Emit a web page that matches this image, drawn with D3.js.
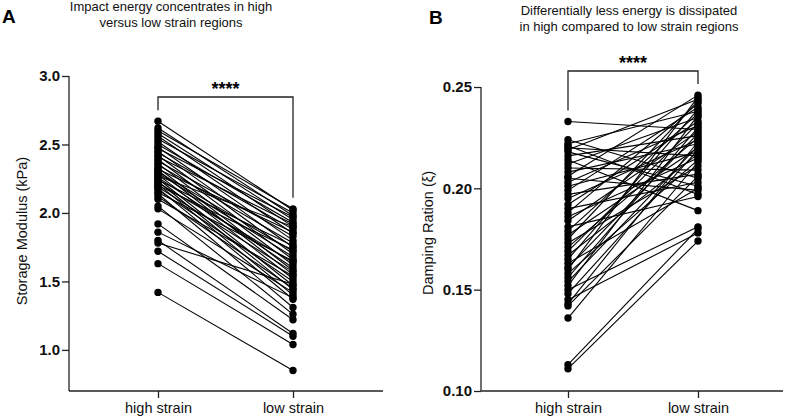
<!DOCTYPE html>
<html><head><meta charset="utf-8">
<script src="https://cdn.jsdelivr.net/npm/d3@7"></script>
<style>
body{margin:0;background:#fff;}
svg{display:block;font-family:"Liberation Sans",Arial,sans-serif;}
</style></head><body>
<svg id="c" width="785" height="419"></svg>
<script>
const categories = ["high strain", "low strain"];

// Panel A: storage modulus (kPa), paired values
const storageHigh = [2.67,2.62,2.60,2.58,2.56,2.54,2.52,2.50,2.48,2.47,2.45,2.44,2.42,2.41,2.39,2.38,2.36,2.35,2.33,2.32,2.31,2.30,2.29,2.28,2.27,2.26,2.25,2.24,2.23,2.22,2.21,2.20,2.19,2.18,2.17,2.15,2.14,2.12,2.10,2.05,2.03,1.92,1.86,1.80,1.78,1.72,1.63,1.42];
const storageLow  = [2.02,1.98,2.03,1.95,1.90,2.00,1.85,1.93,1.80,1.97,1.75,1.88,1.70,1.92,1.66,1.83,1.62,1.78,1.58,1.86,1.55,1.72,1.68,1.52,1.90,1.60,1.47,1.76,1.44,1.64,1.40,1.73,1.57,1.37,1.50,1.65,1.31,1.45,1.54,1.26,1.42,1.22,1.38,1.12,1.48,1.10,1.04,0.85];
const storageTicks = [1.0,1.5,2.0,2.5,3.0];

// Panel B: damping ratio, paired values
const dampHigh = [0.233,0.224,0.222,0.221,0.220,0.219,0.218,0.216,0.214,0.212,0.210,0.208,0.206,0.205,0.203,0.201,0.199,0.197,0.195,0.192,0.190,0.188,0.186,0.184,0.181,0.179,0.177,0.175,0.173,0.171,0.169,0.167,0.165,0.163,0.161,0.160,0.158,0.156,0.154,0.152,0.150,0.148,0.145,0.143,0.142,0.136,0.113,0.111];
const dampLow  = [0.229,0.205,0.238,0.197,0.216,0.244,0.201,0.226,0.189,0.235,0.209,0.222,0.246,0.199,0.231,0.218,0.240,0.207,0.224,0.233,0.203,0.242,0.215,0.228,0.196,0.237,0.220,0.243,0.211,0.225,0.232,0.217,0.239,0.200,0.227,0.245,0.214,0.230,0.221,0.236,0.181,0.219,0.178,0.223,0.206,0.213,0.180,0.174];
const dampTicks = [0.10,0.15,0.20,0.25];

const titlesA = ["Impact energy concentrates in high","versus low strain regions"];
const titlesB = ["Differentially less energy is dissipated","in high compared to low strain regions"];

const svg = d3.select("#c");
const AX = "#222";

function panel(cfg){
  const g = svg.append("g");
  const y = d3.scaleLinear().domain(cfg.domain).range([cfg.bottom, cfg.top]);
  const x = d3.scalePoint().domain(categories).range(cfg.xr);
  // y axis
  const ya = g.append("g").attr("transform",`translate(${cfg.left},0)`)
    .call(d3.axisLeft(y).tickValues(cfg.ticks).tickFormat(cfg.fmt).tickSize(7).tickSizeOuter(0).tickPadding(2));
  ya.select(".domain").attr("d",`M0,${y(cfg.ticks[cfg.ticks.length-1])}V${cfg.bottom}`);
  ya.selectAll("path,line").attr("stroke",AX).attr("stroke-width",1.3);
  ya.selectAll("text").attr("font-size",15).attr("font-weight","bold").attr("fill","#111")
    .attr("font-family","'Liberation Sans',Arial,sans-serif");
  // x axis
  const xa = g.append("g").attr("transform",`translate(0,${cfg.bottom})`)
    .call(d3.axisBottom(x).tickSize(7).tickSizeOuter(0).tickPadding(5));
  xa.select(".domain").attr("d",`M${cfg.left},0H${cfg.right}`);
  xa.selectAll("path,line").attr("stroke",AX).attr("stroke-width",1.3);
  xa.selectAll("text").attr("font-size",14.5).attr("fill","#111")
    .attr("font-family","'Liberation Sans',Arial,sans-serif");
  // lines
  const pairs = cfg.hi.map((h,i)=>[h,cfg.lo[i]]);
  g.append("g").selectAll("line").data(pairs).join("line")
    .attr("x1",x(categories[0])).attr("x2",x(categories[1]))
    .attr("y1",d=>y(d[0])).attr("y2",d=>y(d[1]))
    .attr("stroke","#000").attr("stroke-width",1.1);
  g.append("g").selectAll("circle").data(cfg.hi).join("circle")
    .attr("cx",x(categories[0])).attr("cy",d=>y(d)).attr("r",3.7).attr("fill","#000");
  g.append("g").selectAll("circle").data(cfg.lo).join("circle")
    .attr("cx",x(categories[1])).attr("cy",d=>y(d)).attr("r",3.7).attr("fill","#000");
  // bracket
  const x1 = x(categories[0]), x2 = x(categories[1]);
  const l1 = y(d3.max(cfg.hi)) - 11, l2 = y(d3.max(cfg.lo)) - 11;
  g.append("path").attr("d",`M${x1},${l1}V${cfg.br}H${x2}V${l2}`)
    .attr("fill","none").attr("stroke",AX).attr("stroke-width",1.3);
  g.append("text").attr("x",(x1+x2)/2).attr("y",cfg.br - 2).attr("text-anchor","middle")
    .attr("font-size",18).attr("font-weight","bold").text("****");
  // y title
  g.append("text").attr("transform",`translate(${cfg.ytx},${cfg.yty}) rotate(-90)`)
    .attr("text-anchor","middle").attr("font-size",14.5).attr("fill","#111").text(cfg.ytitle);
  // titles
  cfg.titles.forEach((t,i)=>g.append("text").attr("x",cfg.tx).attr("y",cfg.ty+i*16)
    .attr("text-anchor","middle").attr("font-size",13).attr("fill","#111").text(t));
  g.append("text").attr("x",cfg.lx).attr("y",cfg.ly).attr("font-size",19).attr("font-weight","bold").text(cfg.letter);
}

panel({domain:[0.7,3.0],top:76,bottom:391,left:69,right:383,xr:[158,293],ticks:storageTicks,
  fmt:d3.format(".1f"),hi:storageHigh,lo:storageLow,br:97,ytitle:"Storage Modulus (kPa)",ytx:27,yty:231,
  titles:titlesA,tx:171,ty:11,letter:"A",lx:2,ly:23});
panel({domain:[0.10,0.25],top:87,bottom:391,left:481,right:783,xr:[568,698],ticks:dampTicks,
  fmt:d3.format(".2f"),hi:dampHigh,lo:dampLow,br:71,ytitle:"Damping Ration (ξ)",ytx:433,yty:233,
  titles:titlesB,tx:629,ty:15,letter:"B",lx:429,ly:24});
</script>
</body></html>
